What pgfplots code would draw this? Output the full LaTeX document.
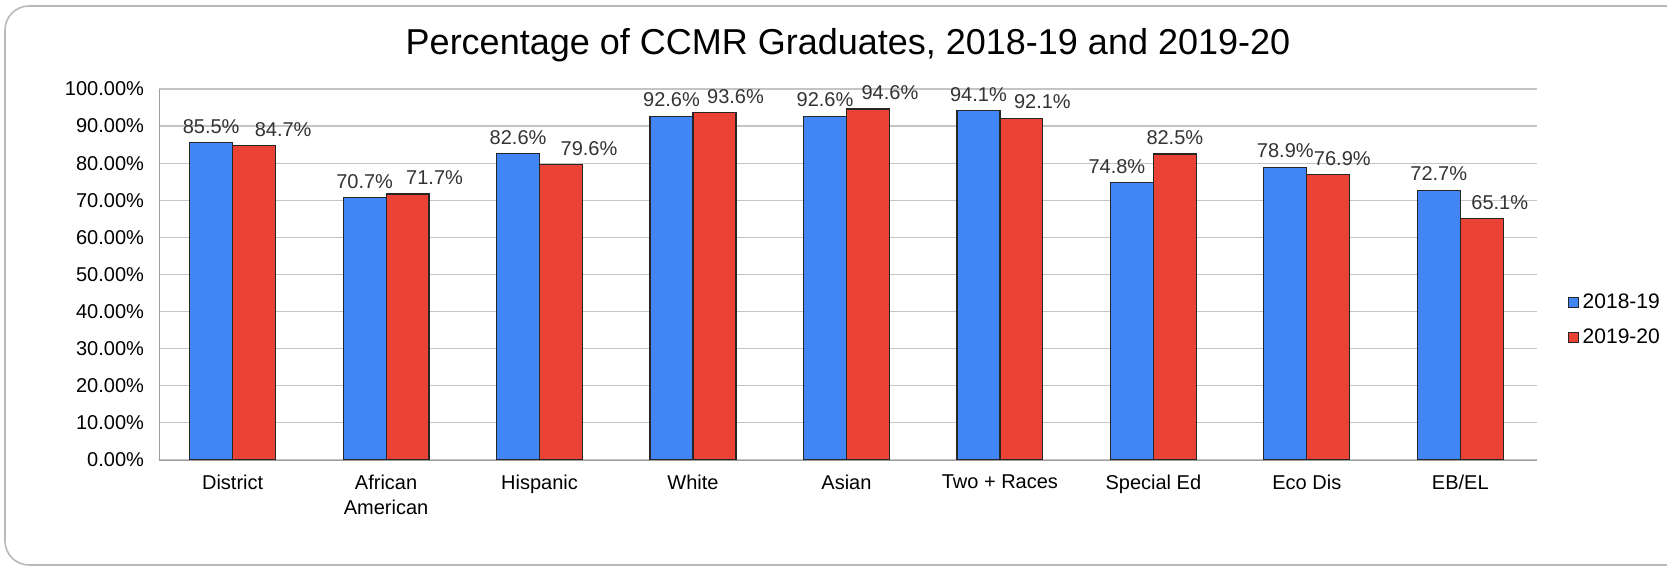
\documentclass[border=0pt]{standalone}
\usepackage{pgfplots}
\usepackage{pgfplotstable}
\pgfplotsset{compat=1.18}
\usepackage{fontspec}
\setmainfont{Liberation Sans}

\definecolor{barblue}{HTML}{4285F4}
\definecolor{barred}{HTML}{EA4335}
\definecolor{gridgray}{HTML}{C4C4C4}

% x = category index, y = percent, dx = label shift in pt
\pgfplotstableread{
x  y     dx
0  85.5  0
1  70.7  0
2  82.6  0
3  92.6  0
4  92.6  0
5  94.1  0
6  74.8  -7.5
7  78.9  0
8  72.7  0
}\blue
\pgfplotstableread{
x  y     dx
0  84.7  14.5
1  71.7  13.5
2  79.6  14
3  93.6  10.5
4  94.6  11
5  92.1  10.5
6  82.5  0
7  76.9  7
8  65.1  9
}\red

\begin{document}
\begin{tikzpicture}
\useasboundingbox (0,0) rectangle (833.5pt,285.5pt);
\draw[gray!55, line width=0.8pt, rounded corners=12pt] (2.5pt,3pt) rectangle (870pt,282.5pt);

\begin{axis}[
    at={(79.5pt,55.5pt)}, anchor=south west,
    scale only axis,
    width=689pt, height=185.5pt,
    ybar=0pt, bar width=0.28,
    ymin=0, ymax=100,
    xmin=-0.48, xmax=8.5,
    ytick={0,10,...,100},
    xtick=data,
    xticklabels={District, African\\American, Hispanic, White, Asian, Two + Races, Special Ed, Eco Dis, EB/EL},
    xticklabel style={align=center, font=\fontsize{10}{12.5}\selectfont, yshift=-4pt},
    yticklabel={\pgfmathprintnumber[fixed,fixed zerofill,precision=2]{\tick}\%},
    yticklabel style={font=\fontsize{10}{12}\selectfont, xshift=-4pt},
    /pgf/number format/assume math mode=true,
    major tick length=0pt,
    axis x line*=bottom, axis y line*=left,
    axis line style={gridgray!80!black, -},
    ymajorgrids, grid style={gridgray, line width=0.6pt},
    title={Percentage of CCMR Graduates, 2018-19 and 2019-20},
    title style={font=\fontsize{18}{21}\selectfont, at={(0.5,1)}, anchor=base, yshift=11pt},
    nodes near coords={\pgfmathprintnumber[fixed,fixed zerofill,precision=1]{\pgfplotspointmeta}\%},
    nodes near coords style={font=\fontsize{10}{12}\selectfont, text=black!80, yshift=1pt},
    legend style={draw=none, fill=none, at={(1.022,0.377)}, anchor=west,
        font=\fontsize{10.5}{12.5}\selectfont, row sep=5pt, inner sep=0pt},
    legend cell align=left,
    legend image code/.code={\draw[#1, line width=0.5pt] (0pt,-2.5pt) rectangle (5pt,2.5pt);},
]
\addplot[fill=barblue, draw=black!85, line width=0.6pt,
    visualization depends on={\thisrow{dx} \as \dx},
    every node near coord/.append style={xshift=\dx}] table[x=x, y=y] {\blue};
\addplot[fill=barred, draw=black!85, line width=0.6pt,
    visualization depends on={\thisrow{dx} \as \dx},
    every node near coord/.append style={xshift=\dx}] table[x=x, y=y] {\red};
\legend{2018-19, 2019-20}
\end{axis}
\end{tikzpicture}
\end{document}
